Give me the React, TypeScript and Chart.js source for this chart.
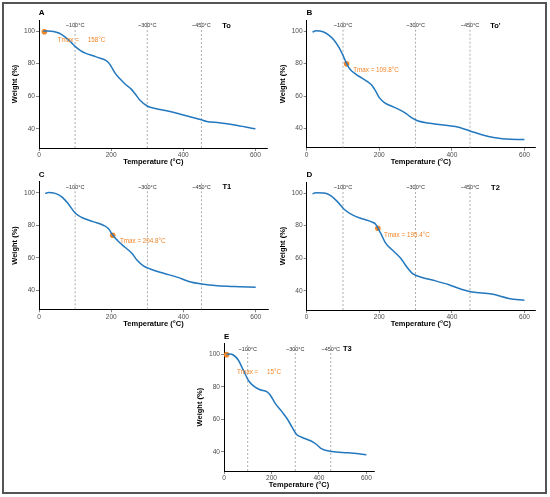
import { useEffect, useRef } from 'react'
import { Chart, registerables } from 'chart.js'

Chart.register(...registerables)

const FONT = '"Liberation Sans", Arial, sans-serif'
const BLUE = '#2378be'
const ORANGE = '#f0862a'

const markTemps = [100, 300, 450]
const markLabels = ['~100°C', '~300°C', '~450°C']
const xTicks = [0, 200, 400, 600]
const yTicks = [40, 60, 80, 100]

// To
const tempsA = [12, 25, 40, 55, 70, 85, 100, 115, 130, 150, 170, 185, 193, 200, 210, 225, 240, 255, 268, 280, 300, 325, 350, 400, 450, 465, 500, 550, 600]
const weightsA = [100, 100.1, 99.8, 98.8, 96.8, 94, 90.6, 88, 86.3, 84.8, 83.3, 82, 80.6, 78.3, 74.5, 70.5, 67.2, 64.5, 61, 57.5, 54, 52.3, 51.2, 48.5, 45.5, 44.5, 43.7, 42, 40]

// To'
const tempsB = [16, 25, 45, 60, 75, 90, 100, 110, 120, 135, 150, 165, 180, 190, 200, 215, 240, 270, 290, 305, 340, 410, 450, 485, 515, 560, 600]
const weightsB = [99.3, 100.2, 99.6, 97.7, 94.5, 89.5, 85, 80, 76.3, 73.5, 71.3, 69.2, 66.5, 63, 59, 55.8, 53.2, 49.8, 46.5, 44.8, 43.2, 41.2, 38.5, 36, 34.5, 33.4, 33.3]

// T1
const tempsC = [17, 26, 45, 63, 80, 100, 120, 150, 178, 192, 204, 220, 238, 257, 271, 289, 308, 345, 382, 420, 450, 495, 540, 600]
const weightsC = [99.5, 100.2, 99.6, 97.5, 93.5, 87.5, 84.6, 82.2, 80, 78, 74, 70, 66.4, 62.7, 58.6, 55, 53, 50.4, 48, 45, 43.8, 42.7, 42.2, 41.8]

// T2
const tempsD = [16, 25, 48, 66, 84, 103, 126, 153, 181, 190, 196, 204, 217, 236, 259, 272, 291, 318, 355, 392, 428, 456, 510, 557, 600]
const weightsD = [99.5, 100.2, 100, 98.4, 94.9, 90.1, 86.6, 84.2, 82.1, 80.9, 78.5, 75.3, 69.4, 65, 60, 55.8, 50.7, 48.2, 46.1, 43.7, 40.8, 39.2, 38, 35.3, 34.2]

// T3
const tempsE = [11, 25, 39, 60, 81, 103, 124, 152, 180, 194, 215, 243, 264, 285, 306, 327, 369, 390, 412, 454, 524, 600]
const weightsE = [100, 100.2, 99.6, 96.5, 90.4, 83.9, 80.6, 78.2, 77.1, 75.1, 70, 64.9, 60.8, 55.7, 50.6, 49, 46.5, 44.5, 41.8, 40.2, 39.4, 38.2]

interface PanelProps {
  letter: string
  sample: string
  temps: number[]
  weights: number[]
  tmax: [number, number]
  tmaxLabel: string
  labelAt: [number, number]
  area: [number, number, number, number]
  xMax: number
}

// fixed axis box sizes so the plot area lands where the reference has it
const Y_AXIS_W = 28.5
const X_AXIS_H = 18.8

function Panel(props: PanelProps) {
  const ref = useRef<HTMLCanvasElement>(null)

  useEffect(() => {
    if (!ref.current) return
    const [l, t, r, b] = props.area

    const overlay = {
      id: 'overlay',
      beforeDatasetsDraw(chart: any) {
        const { ctx, chartArea } = chart
        const xs = chart.scales.x
        const ys = chart.scales.y
        ctx.save()
        ctx.strokeStyle = '#9a9a9a'
        ctx.lineWidth = 0.8
        ctx.setLineDash([2, 2])
        markTemps.forEach((m) => {
          const x = xs.getPixelForValue(m)
          ctx.beginPath()
          ctx.moveTo(x, chartArea.bottom)
          ctx.lineTo(x, chartArea.top)
          ctx.stroke()
        })
        ctx.setLineDash([])
        ctx.fillStyle = '#333'
        ctx.font = `5.5px ${FONT}`
        ctx.textAlign = 'center'
        ctx.textBaseline = 'middle'
        markTemps.forEach((m, i) => {
          ctx.fillText(markLabels[i], xs.getPixelForValue(m), ys.getPixelForValue(103.3))
        })
        ctx.restore()
      },
      afterDatasetsDraw(chart: any) {
        const { ctx, chartArea } = chart
        const xs = chart.scales.x
        const ys = chart.scales.y
        ctx.save()
        ctx.fillStyle = '#000'
        ctx.font = `bold 7.5px ${FONT}`
        ctx.textAlign = 'center'
        ctx.textBaseline = 'middle'
        ctx.fillText(props.sample, xs.getPixelForValue(520), ys.getPixelForValue(103.3))
        ctx.font = `bold 8px ${FONT}`
        ctx.fillText(props.letter, chartArea.left + 2.7, chartArea.top - 7)
        ctx.fillStyle = ORANGE
        ctx.font = `6.3px ${FONT}`
        ctx.textAlign = 'left'
        ctx.fillText(props.tmaxLabel, xs.getPixelForValue(props.labelAt[0]), ys.getPixelForValue(props.labelAt[1]))
        ctx.restore()
      },
    }

    const tickFont = { family: FONT, size: 6.6 }
    const titleFont = { family: FONT, size: 7.5, weight: 'bold' as const, lineHeight: 1.2 }
    const grid = { drawOnChartArea: false, drawTicks: true, tickLength: 3, color: '#333', lineWidth: 0.6 }
    const border = { display: true, color: '#000', width: 1 }

    const chart = new Chart(ref.current, {
      type: 'line',
      data: {
        datasets: [
          {
            data: props.temps.map((x, i) => ({ x, y: props.weights[i] })),
            borderColor: BLUE,
            borderWidth: 1.5,
            pointRadius: 0,
            cubicInterpolationMode: 'monotone',
            fill: false,
          },
          {
            data: [{ x: props.tmax[0], y: props.tmax[1] }],
            showLine: false,
            pointRadius: 2.8,
            pointBackgroundColor: ORANGE,
            pointBorderColor: ORANGE,
            pointBorderWidth: 0,
          },
        ],
      },
      options: {
        animation: false,
        responsive: false,
        layout: { padding: { left: l - Y_AXIS_W, top: t, right: 550 - r, bottom: 497 - b - X_AXIS_H } },
        plugins: { legend: { display: false }, tooltip: { enabled: false } },
        scales: {
          x: {
            type: 'linear',
            min: 0,
            max: props.xMax,
            afterBuildTicks: (s: any) => { s.ticks = xTicks.map((value) => ({ value })) },
            afterFit: (s: any) => { s.height = X_AXIS_H },
            grid,
            border,
            ticks: { font: tickFont, color: '#4d4d4d', padding: 0.5, maxRotation: 0 },
            title: { display: true, text: 'Temperature (°C)', font: titleFont, color: '#000', padding: 0 },
          },
          y: {
            type: 'linear',
            min: 28.2,
            max: 106.8,
            afterBuildTicks: (s: any) => { s.ticks = yTicks.map((value) => ({ value })) },
            afterFit: (s: any) => { s.width = Y_AXIS_W },
            grid,
            border,
            ticks: { font: tickFont, color: '#4d4d4d', padding: 1 },
            title: { display: true, text: 'Weight (%)', font: titleFont, color: '#000', padding: 0 },
          },
        },
      },
      plugins: [overlay],
    })

    return () => chart.destroy()
  }, [])

  return <canvas ref={ref} width={550} height={497} style={{ position: 'absolute', left: 0, top: 0 }} />
}

export default function App() {
  return (
    <div style={{ position: 'absolute', left: 0, top: 0, width: 550, height: 497, background: '#fff' }}>
      <Panel letter='A' sample='To' temps={tempsA} weights={weightsA} tmax={[15, 99.6]} tmaxLabel='Tmax =     158°C' labelAt={[52, 94.5]} area={[39, 20, 267.7, 148]} xMax={634} />
      <Panel letter='B' sample="To'" temps={tempsB} weights={weightsB} tmax={[110, 79.8]} tmaxLabel='Tmax = 109.8°C' labelAt={[128, 75.6]} area={[306.7, 20, 535, 147.7]} xMax={629} />
      <Panel letter='C' sample='T1' temps={tempsC} weights={weightsC} tmax={[204, 73.8]} tmaxLabel='Tmax = 204.8°C' labelAt={[224, 69.9]} area={[39, 181.7, 268, 309.3]} xMax={634} />
      <Panel letter='D' sample='T2' temps={tempsD} weights={weightsD} tmax={[196, 78.4]} tmaxLabel='Tmax = 195.4°C' labelAt={[213, 74.1]} area={[306.7, 182, 535, 310]} xMax={629} />
      <Panel letter='E' sample='T3' temps={tempsE} weights={weightsE} tmax={[11, 99.8]} tmaxLabel='Tmax =     15°C' labelAt={[55, 89]} area={[224, 343.3, 374, 471]} xMax={632} />
      <div style={{ position: 'absolute', left: 2, top: 2, width: 545, height: 492, border: '2px solid #555', boxSizing: 'border-box', pointerEvents: 'none' }} />
    </div>
  )
}
